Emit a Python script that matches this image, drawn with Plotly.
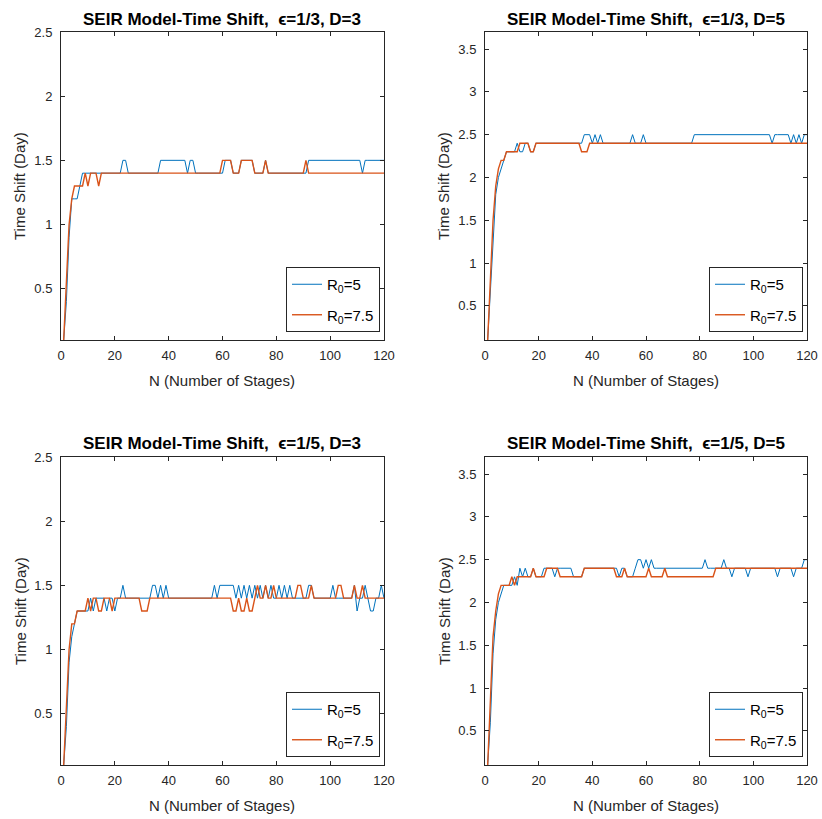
import plotly.graph_objects as go

N = list(range(1, 121))

# Panel 1: epsilon=1/3, D=3
p1_r5 = [0.1,0.4,0.9,1.2,1.2,1.2,1.3,1.4,1.4,1.4, 1.4,1.4,1.4,1.4,1.4,1.4,1.4,1.4,1.4,1.4,
         1.4,1.4,1.5,1.5,1.4,1.4,1.4,1.4,1.4,1.4, 1.4,1.4,1.4,1.4,1.4,1.4,1.5,1.5,1.5,1.5,
         1.5,1.5,1.5,1.5,1.5,1.5,1.4,1.5,1.5,1.4, 1.4,1.4,1.4,1.4,1.4,1.4,1.4,1.4,1.4,1.4,
         1.5,1.5,1.5,1.4,1.4,1.4,1.5,1.5,1.5,1.5, 1.5,1.4,1.4,1.4,1.4,1.5,1.4,1.4,1.4,1.4,
         1.4,1.4,1.4,1.4,1.4,1.4,1.4,1.4,1.4,1.4, 1.4,1.5,1.5,1.5,1.5,1.5,1.5,1.5,1.5,1.5,
         1.5,1.5,1.5,1.5,1.5,1.5,1.5,1.5,1.5,1.5, 1.5,1.4,1.5,1.5,1.5,1.5,1.5,1.5,1.5,1.5]
p1_r75 = [0.1,0.5,1.0,1.2,1.3,1.3,1.3,1.3,1.4,1.3, 1.4,1.4,1.4,1.3,1.4,1.4,1.4,1.4,1.4,1.4,
          1.4,1.4,1.4,1.4,1.4,1.4,1.4,1.4,1.4,1.4, 1.4,1.4,1.4,1.4,1.4,1.4,1.4,1.4,1.4,1.4,
          1.4,1.4,1.4,1.4,1.4,1.4,1.4,1.4,1.4,1.4, 1.4,1.4,1.4,1.4,1.4,1.4,1.4,1.4,1.4,1.5,
          1.5,1.5,1.5,1.4,1.4,1.4,1.5,1.5,1.5,1.5, 1.5,1.4,1.4,1.4,1.4,1.5,1.4,1.4,1.4,1.4,
          1.4,1.4,1.4,1.4,1.4,1.4,1.4,1.4,1.4,1.4, 1.5,1.4,1.4,1.4,1.4,1.4,1.4,1.4,1.4,1.4,
          1.4,1.4,1.4,1.4,1.4,1.4,1.4,1.4,1.4,1.4, 1.4,1.4,1.4,1.4,1.4,1.4,1.4,1.4,1.4,1.4]

# Panel 2: epsilon=1/3, D=5
p2_r5 = [0.1,0.7,1.3,1.8,2.0,2.1,2.2,2.3,2.3,2.3, 2.3,2.4,2.3,2.3,2.4,2.4,2.3,2.3,2.4,2.4,
         2.4,2.4,2.4,2.4,2.4,2.4,2.4,2.4,2.4,2.4, 2.4,2.4,2.4,2.4,2.4,2.4,2.5,2.5,2.5,2.4,
         2.5,2.4,2.5,2.4,2.4,2.4,2.4,2.4,2.4,2.4, 2.4,2.4,2.4,2.4,2.5,2.4,2.4,2.4,2.5,2.4,
         2.4,2.4,2.4,2.4,2.4,2.4,2.4,2.4,2.4,2.4, 2.4,2.4,2.4,2.4,2.4,2.4,2.4,2.5,2.5,2.5,
         2.5,2.5,2.5,2.5,2.5,2.5,2.5,2.5,2.5,2.5, 2.5,2.5,2.5,2.5,2.5,2.5,2.5,2.5,2.5,2.5,
         2.5,2.5,2.5,2.5,2.5,2.5,2.4,2.5,2.5,2.5, 2.5,2.5,2.5,2.4,2.5,2.4,2.5,2.4,2.5,2.5]
p2_r75 = [0.1,0.8,1.5,1.9,2.1,2.2,2.2,2.3,2.3,2.3, 2.3,2.3,2.4,2.4,2.4,2.4,2.3,2.3,2.4,2.4,
          2.4,2.4,2.4,2.4,2.4,2.4,2.4,2.4,2.4,2.4, 2.4,2.4,2.4,2.4,2.4,2.3,2.3,2.3,2.4,2.4,
          2.4,2.4,2.4,2.4,2.4,2.4,2.4,2.4,2.4,2.4, 2.4,2.4,2.4,2.4,2.4,2.4,2.4,2.4,2.4,2.4,
          2.4,2.4,2.4,2.4,2.4,2.4,2.4,2.4,2.4,2.4, 2.4,2.4,2.4,2.4,2.4,2.4,2.4,2.4,2.4,2.4,
          2.4,2.4,2.4,2.4,2.4,2.4,2.4,2.4,2.4,2.4, 2.4,2.4,2.4,2.4,2.4,2.4,2.4,2.4,2.4,2.4,
          2.4,2.4,2.4,2.4,2.4,2.4,2.4,2.4,2.4,2.4, 2.4,2.4,2.4,2.4,2.4,2.4,2.4,2.4,2.4,2.4]

# Panel 3: epsilon=1/5, D=3
p3_r5 = [0.1,0.4,0.9,1.1,1.2,1.3,1.3,1.3,1.3,1.3, 1.4,1.3,1.4,1.4,1.4,1.4,1.3,1.4,1.4,1.3,
         1.4,1.4,1.5,1.4,1.4,1.4,1.4,1.4,1.4,1.4, 1.4,1.4,1.4,1.5,1.5,1.4,1.5,1.4,1.5,1.4,
         1.4,1.4,1.4,1.4,1.4,1.4,1.4,1.4,1.4,1.4, 1.4,1.4,1.4,1.4,1.4,1.4,1.5,1.4,1.5,1.5,
         1.5,1.5,1.5,1.5,1.4,1.5,1.4,1.5,1.4,1.5, 1.4,1.5,1.4,1.5,1.4,1.5,1.4,1.5,1.4,1.4,
         1.5,1.4,1.5,1.4,1.5,1.4,1.4,1.4,1.4,1.4, 1.4,1.5,1.5,1.4,1.4,1.4,1.4,1.4,1.4,1.4,
         1.5,1.4,1.4,1.4,1.4,1.4,1.4,1.4,1.5,1.3, 1.4,1.4,1.5,1.4,1.3,1.3,1.4,1.4,1.5,1.4]
p3_r75 = [0.1,0.5,1.0,1.2,1.2,1.3,1.3,1.3,1.3,1.4, 1.3,1.4,1.4,1.3,1.3,1.4,1.4,1.4,1.3,1.4,
          1.4,1.4,1.4,1.4,1.4,1.4,1.4,1.4,1.4,1.3, 1.3,1.3,1.4,1.4,1.4,1.4,1.4,1.4,1.4,1.4,
          1.4,1.4,1.4,1.4,1.4,1.4,1.4,1.4,1.4,1.4, 1.4,1.4,1.4,1.4,1.4,1.4,1.4,1.4,1.4,1.4,
          1.4,1.4,1.4,1.3,1.3,1.4,1.3,1.3,1.4,1.3, 1.3,1.4,1.5,1.4,1.4,1.5,1.4,1.4,1.5,1.4,
          1.4,1.4,1.4,1.4,1.4,1.4,1.4,1.5,1.5,1.4, 1.4,1.4,1.5,1.4,1.4,1.4,1.4,1.4,1.4,1.4,
          1.4,1.4,1.5,1.5,1.4,1.4,1.4,1.4,1.5,1.4, 1.4,1.5,1.4,1.4,1.4,1.4,1.4,1.4,1.4,1.4]

# Panel 4: epsilon=1/5, D=5
p4_r5 = [0.1,0.6,1.4,1.8,2.0,2.1,2.2,2.2,2.2,2.2, 2.3,2.2,2.4,2.3,2.4,2.3,2.3,2.4,2.3,2.3,
         2.3,2.4,2.4,2.4,2.4,2.3,2.4,2.4,2.4,2.4, 2.4,2.4,2.3,2.3,2.3,2.3,2.4,2.4,2.4,2.4,
         2.4,2.4,2.4,2.4,2.4,2.4,2.4,2.4,2.4,2.3, 2.4,2.4,2.3,2.3,2.3,2.4,2.5,2.5,2.4,2.5,
         2.4,2.5,2.4,2.4,2.4,2.4,2.4,2.4,2.4,2.4, 2.4,2.4,2.4,2.4,2.4,2.4,2.4,2.4,2.4,2.4,
         2.4,2.5,2.4,2.4,2.4,2.4,2.4,2.4,2.5,2.4, 2.4,2.3,2.4,2.4,2.4,2.4,2.4,2.3,2.4,2.4,
         2.4,2.4,2.4,2.4,2.4,2.4,2.4,2.4,2.3,2.4, 2.4,2.4,2.4,2.4,2.3,2.4,2.4,2.4,2.5,2.5]
p4_r75 = [0.1,0.8,1.6,1.9,2.1,2.2,2.2,2.2,2.2,2.3, 2.2,2.3,2.3,2.3,2.3,2.3,2.3,2.4,2.3,2.3,
          2.3,2.3,2.4,2.4,2.4,2.4,2.4,2.3,2.3,2.3, 2.3,2.3,2.3,2.3,2.3,2.3,2.4,2.4,2.4,2.4,
          2.4,2.4,2.4,2.4,2.4,2.4,2.4,2.4,2.3,2.3, 2.3,2.4,2.3,2.3,2.3,2.3,2.3,2.3,2.3,2.3,
          2.4,2.3,2.3,2.3,2.3,2.3,2.4,2.3,2.3,2.3, 2.3,2.3,2.3,2.3,2.3,2.3,2.3,2.3,2.3,2.3,
          2.3,2.3,2.3,2.3,2.3,2.4,2.4,2.4,2.4,2.4, 2.4,2.4,2.4,2.4,2.4,2.4,2.4,2.4,2.4,2.4,
          2.4,2.4,2.4,2.4,2.4,2.4,2.4,2.4,2.4,2.4, 2.4,2.4,2.4,2.4,2.4,2.4,2.4,2.4,2.4,2.4]

titles = ["SEIR Model-Time Shift,  ϵ=1/3, D=3", "SEIR Model-Time Shift,  ϵ=1/3, D=5",
          "SEIR Model-Time Shift,  ϵ=1/5, D=3", "SEIR Model-Time Shift,  ϵ=1/5, D=5"]
series = [(p1_r5, p1_r75), (p2_r5, p2_r75), (p3_r5, p3_r75), (p4_r5, p4_r75)]
yranges = [[0.1, 2.5], [0.1, 3.7], [0.1, 2.5], [0.1, 3.7]]
yticks = [[0.5, 1, 1.5, 2, 2.5], [0.5, 1, 1.5, 2, 2.5, 3, 3.5],
          [0.5, 1, 1.5, 2, 2.5], [0.5, 1, 1.5, 2, 2.5, 3, 3.5]]
xticks = [0, 20, 40, 60, 80, 100, 120]
legend_names = ["R<sub>0</sub>=5", "R<sub>0</sub>=7.5"]

W, H = 822, 819
# axes pixel boxes (left, right, top, bottom)
boxes = [(61, 384, 32, 340), (485, 807, 32, 340), (61, 384, 457, 765), (485, 807, 457, 765)]

BLUE = "#0072BD"
ORANGE = "#D95319"
AXC = "#262626"
FONT = "Liberation Sans, Arial, Helvetica, sans-serif"

fig = go.Figure()
layout = dict(width=W, height=H, margin=dict(l=0, r=0, t=0, b=0, autoexpand=False),
              paper_bgcolor="white", plot_bgcolor="white",
              font=dict(family=FONT, size=13, color=AXC), annotations=[])

for i, ((s5, s75), (l, r, t, b)) in enumerate(zip(series, boxes)):
    k = "" if i == 0 else str(i + 1)
    leg = "legend" + k
    fig.add_trace(go.Scatter(x=N, y=s5, mode="lines", name=legend_names[0],
                             line=dict(color=BLUE, width=1), xaxis="x" + k, yaxis="y" + k,
                             legend=leg, legendgroup="a" + k))
    fig.add_trace(go.Scatter(x=N, y=s75, mode="lines", name=legend_names[1],
                             line=dict(color=ORANGE, width=1.4), xaxis="x" + k, yaxis="y" + k,
                             legend=leg, legendgroup="b" + k))
    common = dict(showline=True, linecolor=AXC, linewidth=1, mirror="ticks", ticks="inside",
                  ticklen=4, tickcolor=AXC, showgrid=False, zeroline=False, automargin=False,
                  tickfont=dict(family=FONT, size=13, color=AXC))
    layout["xaxis" + k] = dict(domain=[l / W, r / W], anchor="y" + k, range=[0, 120],
                               tickvals=xticks, ticklabelstandoff=3, **common)
    layout["yaxis" + k] = dict(domain=[1 - b / H, 1 - t / H], anchor="x" + k,
                               range=yranges[i], tickvals=yticks[i], ticklabelstandoff=5,
                               ticktext=[("%g" % v) for v in yticks[i]], **common)
    layout[leg] = dict(x=(r - 4) / W, y=1 - (b - 8) / H, xanchor="right", yanchor="bottom",
                       bgcolor="white", bordercolor=AXC, borderwidth=1,
                       font=dict(family=FONT, size=15, color="black"), tracegroupgap=8)
    cx = (l + r) / 2 / W
    layout["annotations"].append(dict(text="<b>" + titles[i] + "</b>", x=cx, y=1 - (t - 13) / H,
                                      xref="paper", yref="paper", showarrow=False,
                                      xanchor="center", yanchor="middle",
                                      font=dict(family=FONT, size=17, color="black")))
    layout["annotations"].append(dict(text="N (Number of Stages)", x=cx, y=1 - (b + 40) / H,
                                      xref="paper", yref="paper", showarrow=False,
                                      xanchor="center", yanchor="middle",
                                      font=dict(family=FONT, size=15, color=AXC)))
    layout["annotations"].append(dict(text="Time Shift (Day)", x=(l - 41) / W,
                                      y=1 - (t + b) / 2 / H, textangle=-90,
                                      xref="paper", yref="paper", showarrow=False,
                                      xanchor="center", yanchor="middle",
                                      font=dict(family=FONT, size=15, color=AXC)))

fig.update_layout(**layout)
fig.write_html("out.html", config={"displayModeBar": False},
               post_script="document.body.style.margin='0px';"
                           "document.body.style.overflow='hidden';")
